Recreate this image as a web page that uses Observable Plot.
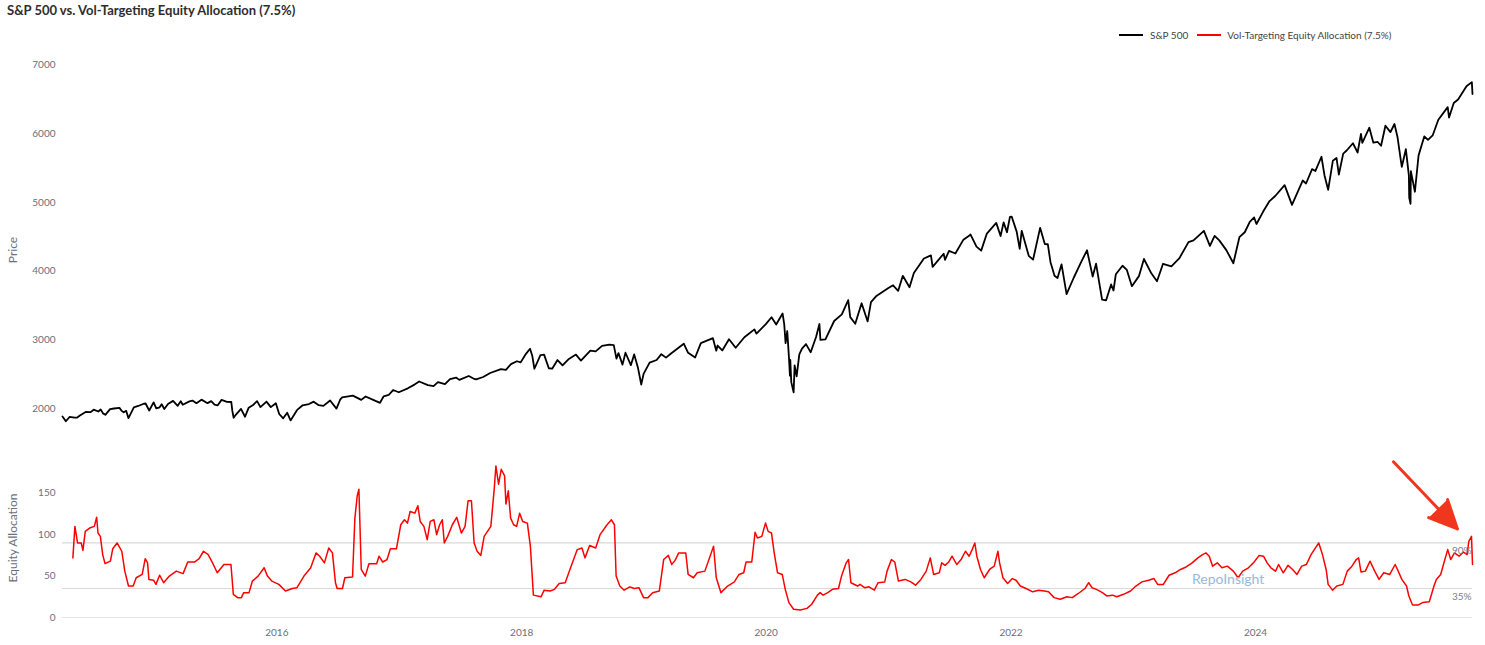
<!DOCTYPE html>
<html>
<head>
<meta charset="utf-8">
<script src="https://cdn.jsdelivr.net/npm/d3@7"></script>
<script src="https://cdn.jsdelivr.net/npm/@observablehq/plot@0.6"></script>
<style>
  html, body { margin: 0; padding: 0; background: #fff; }
  #wrap { position: relative; width: 1485px; height: 645px; overflow: hidden; font-family: Lato, "Open Sans", sans-serif; }
  #title { position: absolute; left: 7px; top: 2px; font-weight: 700; font-size: 13px; color: #2d2d2d; white-space: nowrap; }
  #legend { position: absolute; left: 1119px; top: 29px; display: flex; align-items: center; font-size: 10px; color: #444; white-space: nowrap; }
  #legend .sw { display: inline-block; width: 24px; height: 2px; }
  .ytitle { position: absolute; font-size: 12px; color: #6b6e7d; white-space: nowrap; transform: translate(-50%, -50%) rotate(-90deg); }
  #wm { position: absolute; left: 1192px; top: 570px; font-size: 14px; color: #93bbdc; white-space: nowrap; }
  .panel { position: absolute; left: 0; }
</style>
</head>
<body>
<div id="wrap">
  <div id="title"></div>
  <div id="legend"></div>
  <div class="ytitle" id="yt1" style="left:12px; top:250px;"></div>
  <div class="ytitle" id="yt2" style="left:12px; top:538px;"></div>
  <div class="panel" id="top" style="top:0px;"></div>
  <div class="panel" id="bottom" style="top:445px;"></div>
  <div id="wm"></div>
</div>
<script>
// ---------------- data ----------------
const titleText = "S&P 500 vs. Vol-Targeting Equity Allocation (7.5%)";
const seriesNames = ["S&P 500", "Vol-Targeting Equity Allocation (7.5%)"];
const seriesColors = ["#000000", "#ff0000"];
const axisTitles = ["Price", "Equity Allocation"];
const watermark = "RepoInsight";
const xDomain = ["2014-04-01", "2025-10-10"];
const priceTicks = [2000, 3000, 4000, 5000, 6000, 7000];
const allocTicks = [0, 50, 100, 150];
const yearTicks = ["2016-01-01", "2018-01-01", "2020-01-01", "2022-01-01", "2024-01-01"];
const levelLines = [90, 35];
const priceDomain = [1580, 7010];
const allocDomain = [0, 192];
// annotation arrow (tail -> tip), in data coordinates of the lower panel
const arrowFrom = ["2025-02-16", 188];
const arrowTo = ["2025-08-26", 107];

const spx = [
["2014-04-01",1886],["2014-04-11",1816],["2014-04-22",1879],["2014-05-07",1868],["2014-05-15",1870],["2014-05-23",1900],["2014-06-09",1951],["2014-06-24",1949],["2014-07-03",1985],["2014-07-17",1958],["2014-07-24",1988],["2014-07-31",1931],["2014-08-07",1910],["2014-08-21",1993],["2014-09-02",2002],["2014-09-18",2011],["2014-09-25",1966],["2014-10-01",1946],["2014-10-08",1968],["2014-10-15",1862],["2014-10-31",2018],["2014-11-13",2039],["2014-11-28",2068],["2014-12-05",2075],["2014-12-16",1973],["2014-12-29",2091],
["2015-01-06",2003],["2015-01-16",2019],["2015-01-22",2063],["2015-01-30",1995],["2015-02-10",2068],["2015-02-25",2113],["2015-03-11",2041],["2015-03-20",2108],["2015-03-26",2056],["2015-04-15",2106],["2015-04-24",2117],["2015-05-06",2080],["2015-05-21",2131],["2015-06-08",2080],["2015-06-19",2110],["2015-06-29",2058],["2015-07-08",2047],["2015-07-20",2128],["2015-08-05",2100],["2015-08-18",2097],["2015-08-21",1971],["2015-08-25",1868],["2015-09-01",1914],["2015-09-16",1996],["2015-09-28",1882],["2015-10-09",2014],["2015-10-22",2053],["2015-11-03",2109],["2015-11-13",2023],["2015-12-01",2103],["2015-12-14",2022],["2015-12-29",2078],
["2016-01-08",1922],["2016-01-20",1859],["2016-02-01",1940],["2016-02-11",1829],["2016-02-23",1922],["2016-03-01",1978],["2016-03-18",2049],["2016-04-06",2067],["2016-04-20",2102],["2016-05-05",2051],["2016-05-19",2040],["2016-06-08",2119],["2016-06-27",2000],["2016-07-08",2130],["2016-07-14",2163],["2016-08-15",2190],["2016-09-09",2128],["2016-09-22",2177],["2016-10-13",2132],["2016-11-04",2085],["2016-11-15",2180],["2016-11-30",2199],["2016-12-13",2271],["2016-12-30",2239],
["2017-01-26",2296],["2017-02-15",2350],["2017-03-01",2395],["2017-03-27",2342],["2017-04-13",2329],["2017-04-26",2387],["2017-05-17",2357],["2017-06-01",2431],["2017-06-19",2453],["2017-06-29",2419],["2017-07-27",2475],["2017-08-10",2438],["2017-08-18",2425],["2017-09-08",2461],["2017-09-29",2519],["2017-10-31",2575],["2017-11-15",2565],["2017-11-30",2648],["2017-12-18",2690],["2017-12-29",2674],
["2018-01-12",2786],["2018-01-26",2873],["2018-02-02",2762],["2018-02-08",2581],["2018-02-26",2780],["2018-03-09",2786],["2018-03-23",2588],["2018-04-02",2582],["2018-04-18",2708],["2018-05-03",2630],["2018-05-22",2724],["2018-06-12",2787],["2018-06-27",2699],["2018-07-25",2846],["2018-08-10",2833],["2018-08-29",2914],["2018-09-20",2931],["2018-10-03",2925],["2018-10-11",2728],["2018-10-17",2809],["2018-10-29",2641],["2018-11-07",2814],["2018-11-23",2633],["2018-12-03",2790],["2018-12-14",2600],["2018-12-24",2351],["2018-12-31",2507],
["2019-01-18",2671],["2019-02-08",2708],["2019-02-22",2793],["2019-03-08",2743],["2019-03-22",2800],["2019-04-30",2946],["2019-05-13",2812],["2019-06-03",2744],["2019-06-20",2954],["2019-07-26",3026],["2019-08-05",2844],["2019-08-09",2919],["2019-08-23",2847],["2019-09-12",3010],["2019-10-02",2887],["2019-10-28",3039],["2019-11-27",3154],["2019-12-03",3093],["2019-12-31",3231],
["2020-01-17",3330],["2020-01-31",3226],["2020-02-19",3386],["2020-02-24",3226],["2020-02-28",2954],["2020-03-04",3130],["2020-03-09",2747],["2020-03-12",2481],["2020-03-13",2711],["2020-03-16",2386],["2020-03-23",2237],["2020-03-26",2631],["2020-04-01",2471],["2020-04-09",2790],["2020-04-17",2875],["2020-04-29",2940],["2020-05-13",2820],["2020-05-29",3044],["2020-06-08",3232],["2020-06-11",3002],["2020-06-26",3009],["2020-07-22",3276],["2020-08-14",3373],["2020-09-02",3580],["2020-09-08",3332],["2020-09-23",3237],["2020-10-12",3534],["2020-10-30",3270],["2020-11-09",3550],["2020-11-24",3635],["2020-12-31",3756],
["2021-01-14",3796],["2021-01-29",3714],["2021-02-12",3934],["2021-03-04",3768],["2021-03-17",3974],["2021-04-16",4185],["2021-05-07",4232],["2021-05-12",4063],["2021-06-14",4255],["2021-06-18",4166],["2021-06-30",4297],["2021-07-19",4258],["2021-08-12",4460],["2021-08-31",4523],["2021-09-02",4537],["2021-09-20",4358],["2021-10-04",4300],["2021-10-21",4549],["2021-11-18",4704],["2021-12-01",4513],["2021-12-10",4712],["2021-12-20",4568],["2021-12-29",4793],
["2022-01-03",4796],["2022-01-18",4577],["2022-01-27",4326],["2022-02-02",4589],["2022-02-23",4225],["2022-03-08",4170],["2022-03-29",4632],["2022-04-12",4397],["2022-04-21",4393],["2022-04-29",4132],["2022-05-11",3935],["2022-05-20",3901],["2022-06-01",4101],["2022-06-16",3667],["2022-07-07",3902],["2022-07-29",4130],["2022-08-16",4305],["2022-09-02",3924],["2022-09-12",4110],["2022-09-30",3586],["2022-10-12",3577],["2022-10-27",3808],["2022-11-03",3720],["2022-11-10",3956],["2022-11-30",4080],["2022-12-13",4019],["2022-12-28",3783],
["2023-01-18",3929],["2023-02-02",4179],["2023-02-24",3970],["2023-03-13",3855],["2023-03-31",4109],["2023-04-25",4071],["2023-05-19",4192],["2023-06-15",4425],["2023-06-30",4450],["2023-07-31",4589],["2023-08-18",4370],["2023-09-01",4516],["2023-09-15",4450],["2023-10-06",4308],["2023-10-27",4117],["2023-11-14",4496],["2023-11-30",4568],["2023-12-15",4719],["2023-12-28",4783],
["2024-01-04",4688],["2024-01-24",4869],["2024-02-12",5022],["2024-02-29",5096],["2024-03-28",5254],["2024-04-19",4967],["2024-05-21",5321],["2024-05-31",5278],["2024-06-18",5487],["2024-06-28",5460],["2024-07-16",5667],["2024-07-25",5399],["2024-08-05",5186],["2024-08-19",5608],["2024-08-30",5648],["2024-09-06",5408],["2024-09-19",5713],["2024-09-30",5762],["2024-10-18",5864],["2024-11-01",5729],["2024-11-11",6001],["2024-11-15",5870],["2024-12-06",6090],["2024-12-18",5872],["2024-12-31",5882],
["2025-01-10",5827],["2025-01-23",6119],["2025-02-07",6026],["2025-02-19",6144],["2025-02-28",5955],["2025-03-10",5615],["2025-03-13",5521],["2025-03-25",5777],["2025-04-03",5397],["2025-04-04",5074],["2025-04-08",4982],["2025-04-09",5457],["2025-04-21",5158],["2025-05-02",5687],["2025-05-19",5963],["2025-05-30",5912],["2025-06-13",5977],["2025-06-30",6205],["2025-07-28",6389],["2025-08-01",6238],["2025-08-15",6450],["2025-08-28",6501],["2025-09-22",6694],["2025-10-08",6753],["2025-10-10",6580]
];

const alloc = [
["2014-05-02",72],["2014-05-08",110],["2014-05-16",90],["2014-05-27",90],["2014-06-01",81],["2014-06-08",104],["2014-06-21",108],["2014-07-05",110],["2014-07-12",121],["2014-07-16",102],["2014-07-23",98],["2014-07-30",76],["2014-08-06",65],["2014-08-22",68],["2014-08-29",83],["2014-09-11",90],["2014-09-25",80],["2014-10-04",56],["2014-10-15",38],["2014-10-29",38],["2014-11-07",48],["2014-11-25",52],["2014-12-04",71],["2014-12-11",66],["2014-12-15",46],["2014-12-29",45],
["2015-01-05",40],["2015-01-16",51],["2015-01-28",42],["2015-02-14",50],["2015-03-07",56],["2015-03-27",53],["2015-04-10",67],["2015-04-30",67],["2015-05-14",71],["2015-05-27",80],["2015-06-10",76],["2015-06-23",66],["2015-07-07",54],["2015-07-27",64],["2015-08-17",64],["2015-08-24",28],["2015-09-06",24],["2015-09-17",24],["2015-09-24",30],["2015-10-10",30],["2015-10-20",44],["2015-11-06",50],["2015-11-24",60],["2015-12-04",50],["2015-12-17",44],
["2016-01-07",40],["2016-01-27",32],["2016-02-16",35],["2016-03-01",36],["2016-03-22",50],["2016-04-11",60],["2016-04-27",78],["2016-05-08",74],["2016-05-22",66],["2016-06-04",84],["2016-06-15",78],["2016-06-24",42],["2016-06-29",35],["2016-07-15",35],["2016-07-22",48],["2016-08-14",49],["2016-08-21",120],["2016-08-28",147],["2016-09-02",155],["2016-09-09",58],["2016-09-21",50],["2016-10-02",65],["2016-10-25",65],["2016-11-01",74],["2016-11-12",67],["2016-11-25",70],["2016-12-05",83],["2016-12-23",83],
["2017-01-05",112],["2017-01-16",118],["2017-01-25",114],["2017-02-02",128],["2017-02-16",126],["2017-02-25",135],["2017-03-04",116],["2017-03-15",110],["2017-03-25",94],["2017-04-03",116],["2017-04-14",118],["2017-04-22",100],["2017-05-01",112],["2017-05-09",118],["2017-05-15",90],["2017-05-25",98],["2017-06-08",112],["2017-06-21",121],["2017-07-05",102],["2017-07-16",110],["2017-07-25",141],["2017-08-04",141],["2017-08-12",90],["2017-08-21",80],["2017-09-01",75],["2017-09-11",98],["2017-10-01",110],["2017-10-11",155],["2017-10-16",183],["2017-10-24",161],["2017-11-01",179],["2017-11-11",171],["2017-11-15",137],["2017-11-22",153],["2017-11-29",120],["2017-12-08",112],["2017-12-17",110],["2017-12-26",126],
["2018-01-04",116],["2018-01-18",114],["2018-01-27",86],["2018-02-05",27],["2018-02-28",25],["2018-03-09",33],["2018-03-27",32],["2018-04-09",34],["2018-04-23",41],["2018-05-11",42],["2018-05-27",60],["2018-06-16",82],["2018-06-30",84],["2018-07-09",72],["2018-07-23",87],["2018-08-10",84],["2018-08-23",100],["2018-09-13",112],["2018-09-26",118],["2018-10-05",112],["2018-10-10",50],["2018-10-21",38],["2018-11-03",33],["2018-11-20",37],["2018-12-03",35],["2018-12-17",36],["2018-12-31",24],
["2019-01-13",24],["2019-01-27",30],["2019-02-16",32],["2019-03-01",70],["2019-03-15",75],["2019-03-25",64],["2019-04-04",69],["2019-04-15",78],["2019-05-06",78],["2019-05-13",52],["2019-05-29",48],["2019-06-09",54],["2019-07-02",56],["2019-07-28",86],["2019-08-05",48],["2019-08-19",30],["2019-09-08",38],["2019-09-28",43],["2019-10-12",52],["2019-10-26",54],["2019-11-02",67],["2019-11-19",67],["2019-11-29",103],["2019-12-06",96],["2019-12-19",98],["2019-12-30",114],
["2020-01-07",104],["2020-01-17",102],["2020-01-25",78],["2020-02-04",54],["2020-02-18",52],["2020-02-27",34],["2020-03-09",18],["2020-03-23",10],["2020-04-12",9],["2020-05-02",11],["2020-05-16",16],["2020-06-02",27],["2020-06-10",30],["2020-06-19",27],["2020-07-03",30],["2020-07-17",34],["2020-08-04",35],["2020-08-13",50],["2020-08-27",66],["2020-09-03",70],["2020-09-10",42],["2020-09-30",38],["2020-10-07",40],["2020-10-21",36],["2020-11-03",37],["2020-11-19",33],["2020-11-30",42],["2020-12-20",43],["2020-12-27",56],
["2021-01-09",70],["2021-01-19",67],["2021-01-30",44],["2021-02-19",46],["2021-03-08",43],["2021-03-22",39],["2021-04-07",46],["2021-04-23",56],["2021-05-05",72],["2021-05-15",52],["2021-06-01",54],["2021-06-08",66],["2021-06-18",63],["2021-06-29",67],["2021-07-09",74],["2021-07-23",64],["2021-08-05",70],["2021-08-18",80],["2021-08-29",74],["2021-09-07",82],["2021-09-15",90],["2021-09-21",74],["2021-10-02",58],["2021-10-13",48],["2021-10-29",58],["2021-11-12",62],["2021-11-23",80],["2021-11-28",66],["2021-12-08",48],["2021-12-22",41],
["2022-01-05",47],["2022-01-16",45],["2022-01-29",38],["2022-02-15",35],["2022-03-07",31],["2022-03-25",33],["2022-04-10",32],["2022-04-23",31],["2022-05-10",24],["2022-05-28",22],["2022-06-17",25],["2022-07-03",24],["2022-07-21",29],["2022-08-10",35],["2022-08-21",42],["2022-08-31",36],["2022-09-13",34],["2022-10-01",30],["2022-10-14",26],["2022-10-31",27],["2022-11-13",25],["2022-12-03",28],["2022-12-24",32],
["2023-01-09",38],["2023-01-27",43],["2023-02-16",45],["2023-03-04",47],["2023-03-15",40],["2023-04-01",40],["2023-04-18",51],["2023-05-06",54],["2023-05-22",58],["2023-06-08",61],["2023-06-26",66],["2023-07-13",72],["2023-07-27",76],["2023-08-06",78],["2023-08-16",74],["2023-08-26",62],["2023-09-09",66],["2023-09-23",60],["2023-10-09",62],["2023-10-27",56],["2023-11-10",48],["2023-11-24",56],["2023-12-11",60],["2023-12-28",67],
["2024-01-12",75],["2024-01-25",74],["2024-02-05",66],["2024-02-16",60],["2024-03-01",56],["2024-03-10",64],["2024-03-24",54],["2024-04-07",63],["2024-04-21",58],["2024-05-04",52],["2024-05-18",62],["2024-06-01",64],["2024-06-15",76],["2024-06-28",84],["2024-07-08",90],["2024-07-19",76],["2024-07-30",58],["2024-08-05",40],["2024-08-18",33],["2024-08-31",38],["2024-09-18",40],["2024-10-01",56],["2024-10-15",62],["2024-10-28",70],["2024-11-04",72],["2024-11-11",55],["2024-11-24",56],["2024-12-08",68],["2024-12-22",56],
["2025-01-04",46],["2025-01-18",54],["2025-02-05",52],["2025-02-21",64],["2025-02-28",58],["2025-03-13",46],["2025-03-27",38],["2025-04-03",26],["2025-04-14",15],["2025-04-30",15],["2025-05-14",18],["2025-06-03",19],["2025-06-17",38],["2025-06-24",46],["2025-07-07",52],["2025-07-18",68],["2025-07-28",82],["2025-08-06",70],["2025-08-17",78],["2025-08-31",74],["2025-09-13",79],["2025-09-24",76],["2025-09-29",92],["2025-10-07",98],["2025-10-10",64]
];

// ---------------- build ----------------
const parse = d3.utcParse("%Y-%m-%d");
const spxRows = spx.map(([d, v]) => ({date: parse(d), value: v}));
const allocRows = alloc.map(([d, v]) => ({date: parse(d), value: v}));
const xDom = xDomain.map(parse);
const yearTickDates = yearTicks.map(parse);
const arrowRow = [{x1: parse(arrowFrom[0]), y1: arrowFrom[1], x2: parse(arrowTo[0]), y2: arrowTo[1]}];

document.getElementById("title").textContent = titleText;
document.getElementById("yt1").textContent = axisTitles[0];
document.getElementById("yt2").textContent = axisTitles[1];
document.getElementById("wm").textContent = watermark;

const legend = document.getElementById("legend");
seriesNames.forEach((name, i) => {
  const sw = document.createElement("span");
  sw.className = "sw";
  sw.style.background = seriesColors[i];
  sw.style.marginLeft = i === 0 ? "0px" : "9px";
  const t = document.createElement("span");
  t.textContent = name;
  t.style.marginLeft = i === 0 ? "7px" : "6px";
  legend.appendChild(sw);
  legend.appendChild(t);
});

const W = 1485;
const plain = d => String(d);
const common = {
  width: W,
  marginLeft: 62,
  marginRight: 13,
  style: {fontFamily: "Lato, 'Open Sans', sans-serif", fontSize: "10px", color: "#6b6e7d", background: "transparent"}
};

const topPlot = Plot.plot({
  ...common,
  height: 445,
  marginTop: 64,
  marginBottom: 8,
  x: {type: "utc", domain: xDom, axis: null},
  y: {domain: priceDomain, axis: null},
  marks: [
    Plot.axisY(priceTicks, {tickSize: 0, tickPadding: 7, tickFormat: plain, label: null}),
    Plot.line(spxRows, {x: "date", y: "value", stroke: seriesColors[0], strokeWidth: 1.8, strokeLinejoin: "round"})
  ]
});
document.getElementById("top").appendChild(topPlot);

const bottomPlot = Plot.plot({
  ...common,
  height: 200,
  marginTop: 13,
  marginBottom: 28,
  x: {type: "utc", domain: xDom},
  y: {domain: allocDomain},
  marks: [
    Plot.ruleY(allocTicks.slice(0, 1), {stroke: "#e5e5e5", strokeWidth: 1}),
    Plot.ruleY(levelLines, {stroke: "#d9d9d9", strokeWidth: 1.2}),
    Plot.line(allocRows, {x: "date", y: "value", stroke: seriesColors[1], strokeWidth: 1.5, strokeLinejoin: "round"}),
    Plot.text(levelLines, {y: d => d, text: d => d + "%", frameAnchor: "right", textAnchor: "end", dx: -1, dy: 8, fill: "#7a7d8a", fontSize: 10}),
    Plot.arrow(arrowRow, {x1: "x1", y1: "y1", x2: "x2", y2: "y2", stroke: "#f0361d", fill: "#f0361d", strokeWidth: 3, headLength: 18, headAngle: 50, strokeLinejoin: "miter"}),
    Plot.axisY(allocTicks, {tickSize: 0, tickPadding: 7, tickFormat: plain, label: null}),
    Plot.axisX(yearTickDates, {tickSize: 0, tickPadding: 11, tickFormat: d3.utcFormat("%Y"), label: null})
  ]
});
document.getElementById("bottom").appendChild(bottomPlot);
</script>
</body>
</html>
